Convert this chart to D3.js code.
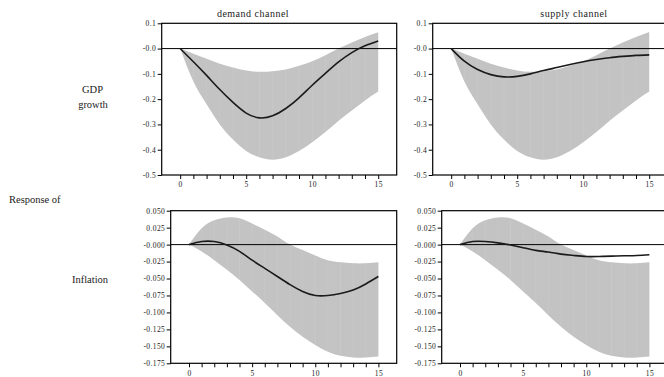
<!DOCTYPE html>
<html><head><meta charset="utf-8">
<script src="https://cdn.jsdelivr.net/npm/d3@7/dist/d3.min.js"></script>
<style>
html,body{margin:0;padding:0;background:#fff;}
svg{display:block;}
text{font-family:"Liberation Serif","Times New Roman",serif;fill:#1a1a1a;}
</style></head>
<body>
<script>
// ---- data ----
const horizons = d3.range(0, 16);
const colTitles = ["demand channel", "supply channel"];
const rowLabels = [["GDP", "growth"], ["Inflation"]];
const sideLabel = "Response of";

const gdpTickValues = [0.1, 0.0, -0.1, -0.2, -0.3, -0.4, -0.5];
const gdpTickLabels = ["0.1", "-0.0", "-0.1", "-0.2", "-0.3", "-0.4", "-0.5"];
const infTickValues = [0.05, 0.025, 0, -0.025, -0.05, -0.075, -0.1, -0.125, -0.15, -0.175];
const infTickLabels = ["0.050", "0.025", "-0.000", "-0.025", "-0.050", "-0.075", "-0.100", "-0.125", "-0.150", "-0.175"];
const xTickLabels = {0: "0", 5: "5", 10: "10", 15: "15"};

// GDP growth, demand channel
const gdpDemandMid   = [0, -0.052, -0.106, -0.162, -0.213, -0.255, -0.274, -0.266, -0.237, -0.195, -0.145, -0.098, -0.053, -0.016, 0.011, 0.03];
const gdpDemandUpper = [0, -0.02, -0.04, -0.06, -0.075, -0.087, -0.092, -0.09, -0.083, -0.068, -0.05, -0.026, 0.0, 0.024, 0.046, 0.065];
const gdpDemandLower = [0, -0.13, -0.22, -0.3, -0.36, -0.405, -0.43, -0.44, -0.43, -0.405, -0.37, -0.33, -0.285, -0.245, -0.205, -0.17];
// GDP growth, supply channel
const gdpSupplyMid   = [0, -0.05, -0.083, -0.103, -0.112, -0.11, -0.1, -0.087, -0.075, -0.063, -0.052, -0.043, -0.036, -0.031, -0.027, -0.025];
const gdpSupplyUpper = [0, -0.02, -0.04, -0.06, -0.075, -0.087, -0.092, -0.09, -0.083, -0.068, -0.05, -0.026, 0.0, 0.024, 0.046, 0.066];
const gdpSupplyLower = [0, -0.13, -0.22, -0.3, -0.36, -0.405, -0.43, -0.44, -0.43, -0.405, -0.37, -0.33, -0.285, -0.245, -0.205, -0.17];
// Inflation, demand channel
const infDemandMid   = [0, 0.0045, 0.0045, -0.0005, -0.01, -0.023, -0.035, -0.047, -0.059, -0.069, -0.075, -0.075, -0.072, -0.067, -0.058, -0.047];
const infDemandUpper = [0, 0.024, 0.036, 0.04, 0.039, 0.031, 0.022, 0.012, 0.0, -0.008, -0.016, -0.023, -0.026, -0.0275, -0.0275, -0.026];
const infDemandLower = [0, -0.01, -0.023, -0.037, -0.052, -0.069, -0.086, -0.104, -0.121, -0.136, -0.148, -0.158, -0.164, -0.1665, -0.1665, -0.165];
// Inflation, supply channel
const infSupplyMid   = [0, 0.0045, 0.0045, 0.0025, -0.0005, -0.0045, -0.0085, -0.011, -0.014, -0.016, -0.0175, -0.0175, -0.017, -0.0165, -0.016, -0.015];
const infSupplyUpper = [0, 0.024, 0.036, 0.04, 0.039, 0.031, 0.022, 0.012, 0.0, -0.008, -0.016, -0.023, -0.026, -0.0275, -0.0275, -0.026];
const infSupplyLower = [0, -0.01, -0.023, -0.037, -0.052, -0.069, -0.086, -0.104, -0.121, -0.136, -0.148, -0.158, -0.164, -0.1665, -0.1665, -0.165];

// ---- layout ----
const W = 664, H = 377;
const svg = d3.select("body").append("svg").attr("width", W).attr("height", H);

const panels = [
  {x0:161.7, x1:396.7, y0:23.3, y1:175, xd:[-1.4,16.4], yd:[-0.5,0.1], tv:gdpTickValues, tl:gdpTickLabels,
   mid:gdpDemandMid, up:gdpDemandUpper, lo:gdpDemandLower},
  {x0:432.7, x1:667.7, y0:23.3, y1:175, xd:[-1.4,16.4], yd:[-0.5,0.1], tv:gdpTickValues, tl:gdpTickLabels,
   mid:gdpSupplyMid, up:gdpSupplyUpper, lo:gdpSupplyLower},
  {x0:170.7, x1:396.7, y0:210.7, y1:363.3, xd:[-1.45,16.45], yd:[-0.175,0.05], tv:infTickValues, tl:infTickLabels,
   mid:infDemandMid, up:infDemandUpper, lo:infDemandLower},
  {x0:441.7, x1:667.7, y0:210.7, y1:363.3, xd:[-1.45,16.45], yd:[-0.175,0.05], tv:infTickValues, tl:infTickLabels,
   mid:infSupplyMid, up:infSupplyUpper, lo:infSupplyLower}
];

panels.forEach(p => {
  const x = d3.scaleLinear().domain(p.xd).range([p.x0, p.x1]);
  const y = d3.scaleLinear().domain(p.yd).range([p.y1, p.y0]);
  const g = svg.append("g");

  const area = d3.area().x((d,i)=>x(horizons[i])).y0((d,i)=>y(p.lo[i])).y1((d,i)=>y(p.up[i]))
    .curve(d3.curveNatural);
  g.append("path").datum(p.up).attr("d", area).attr("fill", "#c3c3c3");

  // faint seams inside the band
  g.selectAll("line.seam").data(horizons.slice(1, 15)).join("line")
    .attr("x1", d=>x(d)).attr("x2", d=>x(d))
    .attr("y1", d=>y(p.up[d])+1).attr("y2", d=>y(p.lo[d])-1)
    .attr("stroke", "#cbcbcb").attr("stroke-width", 0.6);

  // zero line
  g.append("line").attr("x1", p.x0).attr("x2", p.x1).attr("y1", y(0)).attr("y2", y(0))
    .attr("stroke", "#000").attr("stroke-width", 1);

  const line = d3.line().x((d,i)=>x(horizons[i])).y(d=>y(d)).curve(d3.curveNatural);
  g.append("path").datum(p.mid).attr("d", line).attr("fill", "none")
    .attr("stroke", "#1a1a1a").attr("stroke-width", 1.6);

  // frame
  g.append("rect").attr("x", p.x0).attr("y", p.y0).attr("width", p.x1 - p.x0).attr("height", p.y1 - p.y0)
    .attr("fill", "none").attr("stroke", "#000").attr("stroke-width", 1.2);

  // y axis
  const ya = g.append("g").attr("transform", `translate(${p.x0},0)`)
    .call(d3.axisLeft(y).tickValues(p.tv).tickFormat((d,i)=>p.tl[i]).tickSize(4).tickPadding(1.5));
  ya.select(".domain").remove();
  ya.selectAll("line").attr("stroke", "#000").attr("stroke-width", 1);
  ya.selectAll("text").style("font-family", "Liberation Serif").style("font-size", "7.5px")
    .style("letter-spacing", "0.4px").attr("fill", "#000");

  // x axis
  const xa = g.append("g").attr("transform", `translate(0,${p.y1})`)
    .call(d3.axisBottom(x).tickValues(horizons).tickFormat(d=>xTickLabels[d] || "").tickSize(4).tickPadding(3));
  xa.select(".domain").remove();
  xa.selectAll("line").attr("stroke", "#000").attr("stroke-width", 1);
  xa.selectAll("text").style("font-family", "Liberation Serif").style("font-size", "7.5px")
    .style("letter-spacing", "0.4px").attr("fill", "#000");
});

// column titles
svg.append("text").attr("x", 253).attr("y", 16.5).attr("text-anchor", "middle")
  .style("font-size", "10px").style("letter-spacing", "0.5px").text(colTitles[0]);
svg.append("text").attr("x", 574).attr("y", 16.5).attr("text-anchor", "middle")
  .style("font-size", "10px").style("letter-spacing", "0.5px").text(colTitles[1]);

// row labels
svg.append("text").attr("x", 92.5).attr("y", 93).attr("text-anchor", "middle")
  .style("font-size", "10.5px").text(rowLabels[0][0]);
svg.append("text").attr("x", 93).attr("y", 108).attr("text-anchor", "middle")
  .style("font-size", "10.5px").text(rowLabels[0][1]);
svg.append("text").attr("x", 9).attr("y", 203).attr("text-anchor", "start")
  .style("font-size", "10.5px").text(sideLabel);
svg.append("text").attr("x", 90).attr("y", 283).attr("text-anchor", "middle")
  .style("font-size", "10.5px").text(rowLabels[1][0]);
</script>
</body></html>
